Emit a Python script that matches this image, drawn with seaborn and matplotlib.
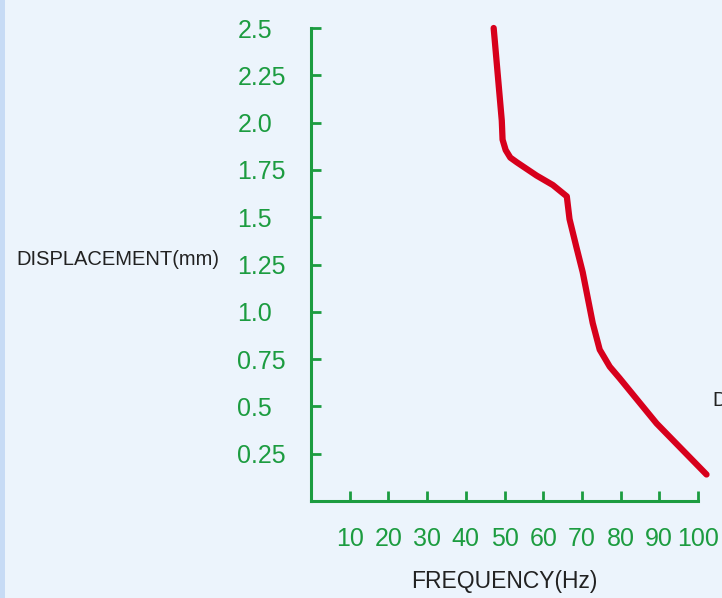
import pandas as pd
import matplotlib.pyplot as plt
import seaborn as sns
from matplotlib.patches import Rectangle

# 주파수 / 변위 값
freq = [47.2, 49.3, 49.5, 50.3, 51.5, 53.2, 58.3, 62.5, 66.1, 66.8, 68.6, 70.2, 72.8, 74.6, 77.2, 79.7, 89.3, 102.2]
disp = [2.50, 2.01, 1.91, 1.855, 1.815, 1.79, 1.72, 1.67, 1.61, 1.49, 1.34, 1.21, 0.94, 0.80, 0.71, 0.65, 0.41, 0.14]

x_ticks = [10, 20, 30, 40, 50, 60, 70, 80, 90, 100]
y_ticks = [0.25, 0.5, 0.75, 1.0, 1.25, 1.5, 1.75, 2.0, 2.25, 2.5]
y_labels = ['0.25', '0.5', '0.75', '1.0', '1.25', '1.5', '1.75', '2.0', '2.25', '2.5']

df = pd.DataFrame({'FREQUENCY': freq, 'DISPLACEMENT': disp})

sns.set_style('white')
plt.rcParams['font.family'] = ['Liberation Sans', 'DejaVu Sans']

green = '#1c9c40'
bg = '#ecf4fc'

fig = plt.figure(figsize=(7.22, 5.98), dpi=100, facecolor=bg)
ax = fig.add_axes([311 / 722, 1 - 501 / 598, 387 / 722, 473 / 598])
ax.set_facecolor(bg)

# 왼쪽 파란 테두리
fig.patches.append(Rectangle((0, 0), 5 / 722, 1, transform=fig.transFigure,
                             facecolor='#c7dbf5', edgecolor='none'))

sns.lineplot(data=df, x='FREQUENCY', y='DISPLACEMENT', sort=False, estimator=None,
             color='#d7001c', linewidth=4.5, ax=ax)
for ln in ax.lines:
    ln.set_solid_capstyle('round')
    ln.set_solid_joinstyle('round')
    ln.set_clip_on(False)

ax.set_xlim(0, 100)
ax.set_ylim(0, 2.5)

for s in ['top', 'right']:
    ax.spines[s].set_visible(False)
for s in ['left', 'bottom']:
    ax.spines[s].set_color(green)
    ax.spines[s].set_linewidth(2.2)

ax.set_xticks(x_ticks)
ax.set_xticklabels([str(t) for t in x_ticks])
ax.set_yticks(y_ticks)
ax.set_yticklabels(y_labels)

ax.tick_params(axis='both', direction='in', length=7, width=2, color=green,
               labelcolor=green, labelsize=18, bottom=True, left=True)
ax.tick_params(axis='x', pad=19)
ax.tick_params(axis='y', pad=53)
for t in ax.get_yticklabels():
    t.set_horizontalalignment('left')

ax.set_xlabel('FREQUENCY(Hz)', fontsize=16.5, color='#222222')
ax.xaxis.set_label_coords(0.5, -0.145)
ax.set_ylabel('DISPLACEMENT(mm)', fontsize=14.5, color='#222222', rotation=0,
              ha='right', va='center')
ax.yaxis.set_label_coords(-0.236, 0.51)

# 오른쪽에서 잘린 다른 그래프의 라벨
fig.text(712 / 722, 1 - 400 / 598, 'DISPLACEMENT(mm)', fontsize=14.5, color='#222222',
         ha='left', va='center')

fig.savefig('out.png', dpi=100, facecolor=bg)
